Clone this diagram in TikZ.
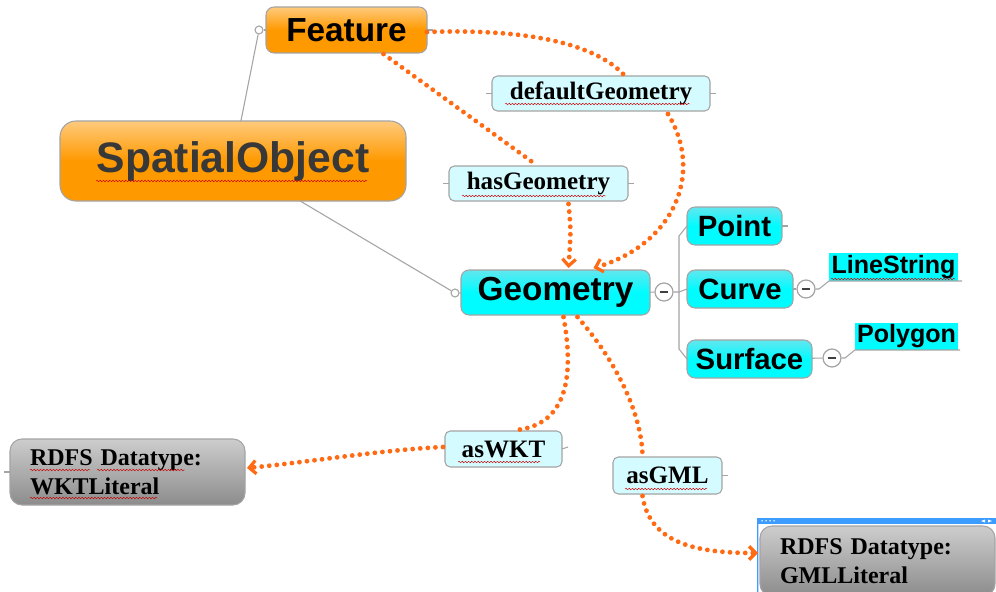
\documentclass[tikz,border=0pt]{standalone}
\usepackage{fontspec}
\setmainfont{Liberation Serif}
\setsansfont{Liberation Sans}
\usetikzlibrary{arrows.meta,calc,decorations.pathmorphing}
\definecolor{orgTop}{HTML}{FFCA7C}
\definecolor{orgBot}{HTML}{FF9900}
\definecolor{cyTop}{HTML}{62E6EE}
\definecolor{cyBot}{HTML}{00FCFF}
\definecolor{lcy}{HTML}{D4FBFF}
\definecolor{gyTop}{HTML}{CDCDCD}
\definecolor{gyBot}{HTML}{8C8C8C}
\definecolor{bord}{HTML}{A4A4A4}
\definecolor{dotc}{HTML}{FF6A13}
\definecolor{bframe}{HTML}{3C9CFF}
\definecolor{sotext}{HTML}{383838}
\tikzset{
  box/.style={draw=bord, line width=0.8pt, rounded corners=6pt, inner sep=0pt, outer sep=0pt, align=center},
  orgbox/.style={box, top color=orgTop, bottom color=orgBot, middle color=orgBot},
  cybox/.style={box, top color=cyTop, bottom color=cyBot, middle color=cyBot, font=\sffamily\bfseries\fontsize{22}{22}\selectfont},
  lblbox/.style={box, fill=lcy, rounded corners=4pt, font=\rmfamily\bfseries\fontsize{18.8}{19}\selectfont},
  gybox/.style={box, top color=gyTop, bottom color=gyBot, rounded corners=9pt, align=left, font=\rmfamily\bfseries\fontsize{18}{22}\selectfont},
  hlbox/.style={fill=cyBot, inner sep=0pt, outer sep=0pt, font=\sffamily\bfseries\fontsize{18.8}{19}\selectfont},
  gline/.style={draw=bord, line width=0.8pt},
  dotcirc/.style={circle, draw=bord, fill=white, line width=0.8pt, inner sep=0pt, minimum size=6pt},
  minuscirc/.style={circle, draw=bord, fill=white, line width=0.9pt, inner sep=0pt, minimum size=13.5pt,
     path picture={\draw[black!75, line width=0.8pt] ([xshift=-3.2pt]path picture bounding box.center) -- ([xshift=3.2pt]path picture bounding box.center);}},
  odot/.style={draw=dotc, line width=3.6pt, line cap=round, dash pattern=on 0pt off 5.7pt},
  otip/.style={-{Straight Barb[length=5pt,width=10pt,line width=2.4pt]}},
  squig/.style={draw=red!80!black, line width=0.35pt, decorate, decoration={snake, amplitude=0.55pt, segment length=2.4pt}}
}
\begin{document}
\begin{tikzpicture}[x=0.75pt, y=-0.75pt]
\useasboundingbox (0,0) rectangle (996,592);
\fill[white] (0,0) rectangle (996,592);

% main nodes
\node[orgbox, minimum width=161*0.75pt, minimum height=46*0.75pt, font=\sffamily\bfseries\fontsize{25}{25}\selectfont] (feature) at (346.5,30) {Feature};
\node[orgbox, rounded corners=12pt, minimum width=346*0.75pt, minimum height=80*0.75pt, text=sotext, font=\sffamily\bfseries\fontsize{32}{32}\selectfont] (spatial) at (233,161) {SpatialObject};
\node[lblbox, minimum width=218*0.75pt, minimum height=35*0.75pt] (defg) at (601,93.5) {defaultGeometry};
\node[lblbox, minimum width=179*0.75pt, minimum height=35*0.75pt] (hasg) at (538.5,183.5) {hasGeometry};
\node[cybox, minimum width=189*0.75pt, minimum height=45*0.75pt, font=\sffamily\bfseries\fontsize{25}{25}\selectfont] (geom) at (555.5,292.5) {Geometry};
\node[cybox, minimum width=95*0.75pt, minimum height=38*0.75pt] (point) at (734.5,226) {Point};
\node[cybox, minimum width=106*0.75pt, minimum height=38*0.75pt] (curve) at (740,289) {Curve};
\node[cybox, minimum width=125*0.75pt, minimum height=38*0.75pt] (surface) at (749.5,359) {Surface};
\node[hlbox, minimum width=129*0.75pt, minimum height=28*0.75pt] (linestr) at (893.5,267) {LineString};
\node[hlbox, minimum width=103*0.75pt, minimum height=27*0.75pt] (polygon) at (906.5,336.5) {Polygon};
\node[lblbox, minimum width=117*0.75pt, minimum height=36*0.75pt] (aswkt) at (503.5,449) {asWKT};
\node[lblbox, minimum width=109*0.75pt, minimum height=37*0.75pt] (asgml) at (667.5,475.5) {asGML};
\node[gybox, text width=195*0.75pt, inner xsep=20*0.75pt, minimum height=66*0.75pt] (wkt) at (127.5,472) {RDFS Datatype:\\WKTLiteral};
% selection frame around GML box
\fill[bframe!35] (757,518) rectangle (997,592);
\fill[white] (759,524) rectangle (997,592);
\fill[bframe] (757,518) rectangle (997,523.5);
\draw[bframe, line width=1.2pt] (757.6,592) -- (757.6,518.6) -- (997,518.6);
\foreach \dx in {762,766,770,774} \fill[white] (\dx,520.8) circle (0.6pt);
\fill[white] (985,519.5) -- (981,521) -- (985,522.5) -- cycle;
\fill[white] (988,519.5) -- (992,521) -- (988,522.5) -- cycle;
\node[gybox, text width=195*0.75pt, inner xsep=20*0.75pt, minimum height=70*0.75pt] (gml) at (877.5,561) {RDFS Datatype:\\GMLLiteral};

% small circles
\node[dotcirc] (fcirc) at (259,30) {};
\node[dotcirc] (gcirc) at (455,293) {};
\node[minuscirc] (gmin) at (664,292) {};
\node[minuscirc] (cmin) at (806,289) {};
\node[minuscirc] (smin) at (832,358) {};

% gray connectors
\draw[gline] (spatial) -- (fcirc);
\draw[gline] (fcirc) -- (feature);
\draw[gline] (spatial) -- (gcirc);
\draw[gline] (gcirc) -- (geom);
\draw[gline] (geom) -- (gmin);
\coordinate (brm) at (679,292);
\coordinate (brt) at (679,236);
\coordinate (brb) at (679,349);
\draw[gline] (gmin) -- (brm) -- (curve.west);
\draw[gline] (point.west) -- (brt) -- (brb) -- (surface.west);
\draw[gline] (curve) -- (cmin);
\coordinate (lsk) at (819,289);
\coordinate (lse) at (962,281);
\draw[gline] (cmin) -- (lsk) -- (linestr.south west) -- (lse);
\draw[gline] (surface) -- (smin);
\coordinate (pgk) at (845,358);
\coordinate (pge) at (960,350);
\draw[gline] (smin) -- (pgk) -- (polygon.south west) -- (pge);
% ticks
\draw[gline] (feature.east) -- ++(6,0);
\draw[gline] (defg.west) -- ++(-6,0);
\draw[gline] (defg.east) -- ++(6,0);
\draw[gline] (hasg.west) -- ++(-6,0);
\draw[gline] (hasg.east) -- ++(6,0);
\draw[gline] (aswkt.east) -- ++(6,-2);
\draw[gline] (asgml.east) -- ++(6,0);
\draw[gline] (point.east) -- ++(6,0);
\draw[gline] (wkt.west) -- ++(-6,0);

% orange dotted relations
\draw[odot] ([yshift=-1.5pt]feature.east) .. controls (540,28) and (600,48) .. ($(defg.north)+(24,0)$);
\draw[odot, otip] ($(defg.south)+(67,3)$) .. controls (705,175) and (672,245) .. ($(geom.north)+(38,-2)$);
\draw[odot] ($(feature.south)+(37,1)$) -- ($(hasg.north)+(-2,-1)$);
\draw[odot, otip] ($(hasg.south)+(30,3)$) .. controls (571,230) .. ($(geom.north)+(13,-2)$);
\draw[odot] ($(geom.south)+(8,2)$) .. controls (576,385) and (562,425) .. ($(aswkt.north)+(13,-1)$);
\draw[odot, otip] ($(aswkt.west)+(-2,-2)$) .. controls (380,450) and (310,462) .. ($(wkt.east)+(2,-4)$);
\draw[odot] ($(geom.south)+(22,2)$) .. controls (622,368) and (642,420) .. ($(asgml.north)+(-25,-1)$);
\draw[odot, otip] ($(asgml.south)+(-25,2)$) .. controls (650,545) and (700,553) .. ($(gml.west)+(-2,-8)$);

% spell-check squiggles
\draw[squig] (96,181) -- (367,181);
\draw[squig] (505,104) -- (690,104);
\draw[squig] (462,196) -- (606,196);
\draw[squig] (831,279) -- (955,279);
\draw[squig] (458,462) -- (540,462);
\draw[squig] (625,489) -- (707,489);
\draw[squig] (30,470) -- (90,470);
\draw[squig] (97,470) -- (185,470);
\draw[squig] (30,498) -- (157,498);
\end{tikzpicture}
\end{document}
